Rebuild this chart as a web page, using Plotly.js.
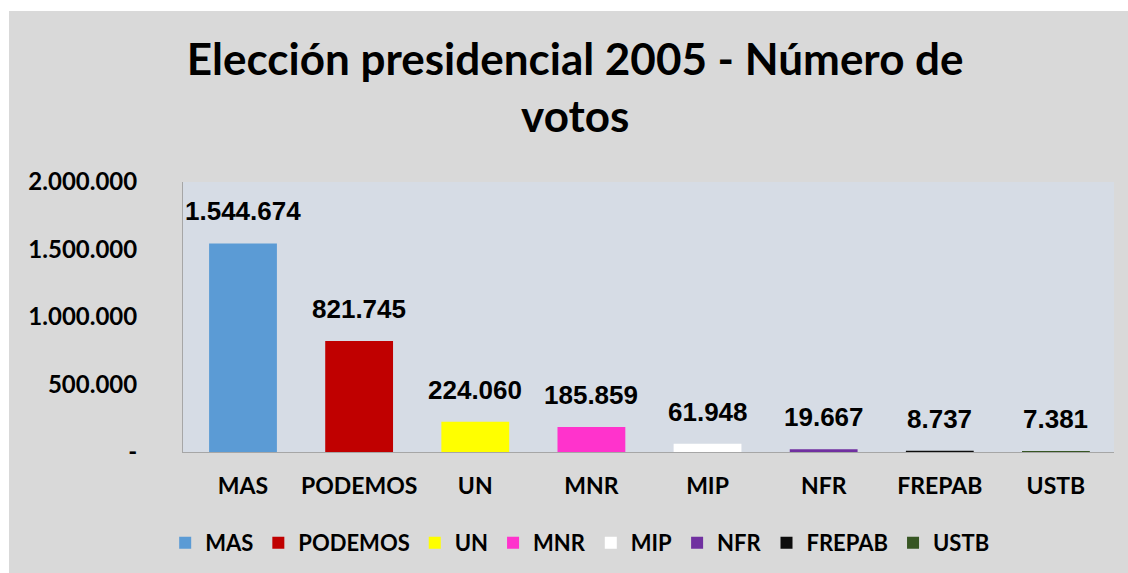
<!DOCTYPE html>
<html>
<head>
<meta charset="utf-8">
<script src="https://cdn.plot.ly/plotly-3.0.1.min.js"></script>
<style>
  html, body { margin: 0; padding: 0; background: #ffffff; }
  #chart { position: absolute; left: 9px; top: 11px; width: 1119px; height: 562px; }
</style>
</head>
<body>
<div id="chart"></div>
<script>
const parties = ["MAS", "PODEMOS", "UN", "MNR", "MIP", "NFR", "FREPAB", "USTB"];
const votes = [1544674, 821745, 224060, 185859, 61948, 19667, 8737, 7381];
const partyColors = ["#5b9bd5", "#c00000", "#ffff00", "#ff33cc", "#ffffff", "#7030a0", "#0d0d0d", "#375623"];
const yTickVals = [0, 500000, 1000000, 1500000, 2000000];
const yTickText = ["-", "500.000", "1.000.000", "1.500.000", "2.000.000"];
const chartTitle = "Elección presidencial 2005 - Número de<br>votos";

function fmt(n) {
  return String(n).replace(/\B(?=(\d{3})+(?!\d))/g, ".");
}

const labelFont = "Lato, 'Open Sans', sans-serif";

const traces = parties.map((p, i) => ({
  type: "bar",
  name: p,
  x: [p],
  y: [votes[i]],
  width: 0.584,
  marker: { color: partyColors[i], line: { width: 0 } },
  hoverinfo: "skip"
}));

const annotations = parties.map((p, i) => ({
  x: p,
  y: votes[i],
  xref: "x",
  yref: "y",
  text: fmt(votes[i]),
  showarrow: false,
  yanchor: "bottom",
  yshift: 15,
  font: { family: "'Liberation Sans', Arial, sans-serif", size: 26, color: "#000000", weight: "bold" }
}));

const layout = {
  width: 1119,
  height: 562,
  paper_bgcolor: "#d9d9d9",
  plot_bgcolor: "#d6dce5",
  margin: { l: 174, r: 14, t: 171, b: 121 },
  barmode: "overlay",
  showlegend: true,
  title: {
    text: chartTitle,
    xref: "container",
    yref: "container",
    x: 0.506,
    xanchor: "center",
    y: 1 - 64 / 562,
    yanchor: "top",
    font: { family: labelFont, size: 44, color: "#000000", weight: "bold" }
  },
  xaxis: {
    type: "category",
    showgrid: false,
    showline: true,
    linecolor: "#a6a6a6",
    linewidth: 1,
    ticks: "",
    ticklabelstandoff: 13,
    tickfont: { family: labelFont, size: 23, color: "#000000", weight: "bold" },
    fixedrange: true
  },
  yaxis: {
    range: [0, 2000000],
    tickvals: yTickVals,
    ticktext: yTickText,
    showgrid: false,
    zeroline: false,
    showline: true,
    linecolor: "#a6a6a6",
    linewidth: 1,
    ticks: "",
    ticklabelstandoff: 40,
    tickfont: { family: labelFont, size: 24, color: "#000000", weight: "bold" },
    fixedrange: true
  },
  legend: {
    orientation: "h",
    xref: "container",
    yref: "container",
    x: 0.51,
    xanchor: "center",
    y: 30 / 562,
    yanchor: "middle",
    bgcolor: "rgba(0,0,0,0)",
    font: { family: labelFont, size: 22, color: "#000000", weight: "bold" },
    itemclick: false,
    itemdoubleclick: false
  },
  annotations: annotations
};

Plotly.newPlot("chart", traces, layout, { displayModeBar: false, staticPlot: true });
</script>
</body>
</html>
